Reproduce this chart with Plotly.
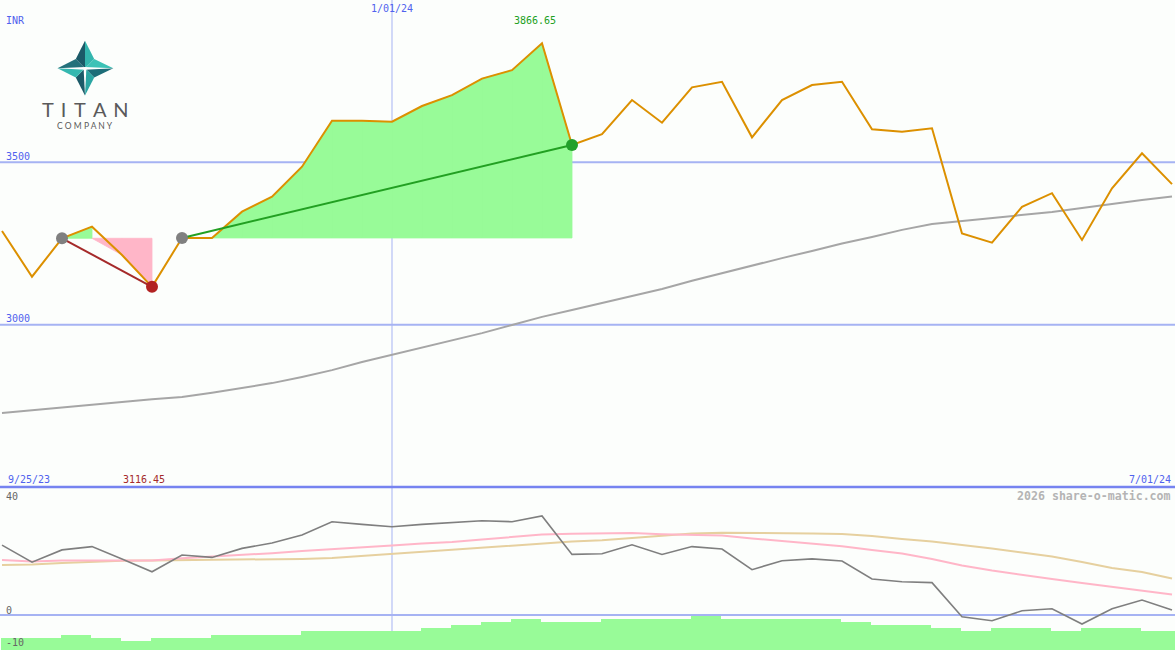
import pandas as pd
import plotly.graph_objects as go

# ---------------- data ----------------
dates = pd.date_range("2023-10-02", periods=40, freq="7D")

price = [3288.5, 3147.7, 3266.0, 3301.8, 3214.6, 3116.45, 3267.0, 3266.6, 3348.0, 3394.0,
         3486.6, 3628.0, 3628.0, 3625.0, 3673.5, 3707.0, 3758.0, 3784.0, 3866.65, 3553.4,
         3587.0, 3692.0, 3622.0, 3731.0, 3748.0, 3577.0, 3692.0, 3738.0, 3748.0, 3602.0,
         3594.0, 3605.0, 3281.0, 3252.5, 3363.0, 3405.0, 3261.0, 3420.0, 3528.0, 3433.0]

sma = [2728, 2737, 2746, 2754, 2762, 2770, 2777, 2790, 2805, 2820,
       2839, 2860, 2885, 2907, 2928, 2950, 2974, 2999, 3024, 3045,
       3067, 3088, 3110, 3135, 3159, 3181, 3205, 3227, 3250, 3270,
       3292, 3310, 3319, 3329, 3338, 3347, 3359, 3372, 3384, 3395]

osc = [23.3, 17.6, 21.7, 22.8, 18.7, 14.4, 20.0, 19.2, 22.2, 24.0,
       26.7, 31.1, 30.2, 29.4, 30.2, 30.7, 31.4, 31.1, 33.0, 20.2,
       20.4, 23.4, 20.2, 22.8, 22.0, 15.1, 18.1, 18.7, 18.0, 12.0,
       11.1, 10.8, -0.6, -1.9, 1.4, 2.1, -3.0, 2.1, 5.0, 1.7]

osc_fast = [18.3, 17.8, 18.2, 18.2, 18.2, 18.2, 18.9, 19.4, 19.9, 20.6,
            21.3, 22.0, 22.7, 23.2, 23.8, 24.3, 25.2, 26.0, 26.8, 27.1,
            27.3, 27.3, 26.9, 26.8, 26.5, 25.5, 24.7, 23.8, 22.9, 21.7,
            20.5, 18.7, 16.5, 14.8, 13.3, 12.0, 10.7, 9.4, 8.2, 6.8]

osc_slow = [16.7, 16.8, 17.3, 17.8, 18.1, 18.2, 18.3, 18.3, 18.4, 18.5,
            18.7, 19.0, 19.7, 20.3, 21.0, 21.8, 22.5, 23.2, 23.8, 24.5,
            24.9, 25.6, 26.5, 27.2, 27.4, 27.4, 27.3, 27.2, 27.0, 26.3,
            25.3, 24.5, 23.3, 22.2, 20.8, 19.5, 17.7, 15.7, 14.3, 12.2]

bar_tops = [-7.67, -7.67, -6.67, -7.67, -8.67, -7.67, -7.67, -6.67, -6.67, -6.67,
            -5.33, -5.33, -5.33, -5.33, -4.33, -3.33, -2.33, -1.33, -2.33, -2.33,
            -1.33, -1.33, -1.33, -0.33, -1.33, -1.33, -1.33, -1.33, -2.33, -3.33,
            -3.33, -4.33, -5.33, -4.33, -4.33, -5.33, -4.33, -4.33, -5.33, -5.33]

entry_dates = ["2023-10-16", "2023-11-13"]
exit_dates = ["2023-11-06", "2024-02-12"]

price_ticks = [3000, 3500]
osc_ticks = [40, 0, -10]
mid_date_label = "2024-01-01"
start_label, end_label = "9/25/23", "7/01/24"

# ---------------- helpers ----------------
W, H = 1175, 650
PX_PER_DAY = 30 / 7
ds = [d.strftime("%Y-%m-%d") for d in dates]
idx = {d: i for i, d in enumerate(ds)}
x_start = dates[0] - pd.Timedelta(days=2 / PX_PER_DAY)
x_end = x_start + pd.Timedelta(days=W / PX_PER_DAY)
SPLIT = 163 / H  # lower panel height fraction

def px(x, y):
    return x / W, 1 - y / H

BLUE_TXT = "#5062ee"
GRID = "#a6b3f3"
MONO = "DejaVu Sans Mono"

fig = go.Figure()

# ---------------- lower panel ----------------
fig.add_trace(go.Bar(
    x=ds, y=[t + 12 for t in bar_tops], base=-12, yaxis="y2",
    width=7 * 86400000, offset=-8 * 3600000,
    marker=dict(color="#98fb98", line=dict(width=0)), showlegend=False))
fig.add_trace(go.Scatter(x=ds, y=osc_slow, yaxis="y2", mode="lines",
                         line=dict(color="#e6d09f", width=2), showlegend=False))
fig.add_trace(go.Scatter(x=ds, y=osc_fast, yaxis="y2", mode="lines",
                         line=dict(color="#ffb6c8", width=2), showlegend=False))
fig.add_trace(go.Scatter(x=ds, y=osc, yaxis="y2", mode="lines",
                         line=dict(color="#7f7f7f", width=1.6), showlegend=False))

# ---------------- upper panel ----------------
fig.add_trace(go.Scatter(x=ds, y=sma, mode="lines",
                         line=dict(color="#a6a6a6", width=2), showlegend=False))

gx, gy, rx, ry = [], [], [], []
for e, x in zip(entry_dates, exit_dates):
    i0, i1 = idx[e], idx[x]
    L = price[i0]
    for a in range(i0, i1):
        b = a + 1
        up = price[b] >= L
        ya = price[a] if ((price[a] >= L) == up) else L
        xs = [ds[a], ds[b], ds[b], ds[a], None]
        ys = [ya, price[b], L, L, None]
        if up:
            gx += xs; gy += ys
        else:
            rx += xs; ry += ys
fig.add_trace(go.Scatter(x=gx, y=gy, mode="lines", fill="toself", fillcolor="#98fb98",
                         line=dict(color="#98fb98", width=0.8), showlegend=False))
fig.add_trace(go.Scatter(x=rx, y=ry, mode="lines", fill="toself", fillcolor="#ffb6c8",
                         line=dict(color="#ffb6c8", width=0.8), showlegend=False))

fig.add_trace(go.Scatter(x=ds, y=price, mode="lines",
                         line=dict(color="#dc9000", width=2), showlegend=False))

trade_colors = ["#a52a2a", "#22a022"]
for (e, x), c in zip(zip(entry_dates, exit_dates), trade_colors):
    fig.add_trace(go.Scatter(x=[e, x], y=[price[idx[e]], price[idx[x]]], mode="lines",
                             line=dict(color=c, width=2), showlegend=False))
fig.add_trace(go.Scatter(x=entry_dates, y=[price[idx[e]] for e in entry_dates], mode="markers",
                         marker=dict(color="#808080", size=12), showlegend=False))
fig.add_trace(go.Scatter(x=exit_dates, y=[price[idx[x]] for x in exit_dates], mode="markers",
                         marker=dict(color=["#b22222", "#22a02a"], size=12), showlegend=False))

# ---------------- shapes ----------------
shapes = []
for t in price_ticks:
    shapes.append(dict(type="line", xref="paper", yref="y", x0=0, x1=1, y0=t, y1=t,
                       line=dict(color=GRID, width=2), layer="below"))
shapes.append(dict(type="line", xref="paper", yref="y2", x0=0, x1=1, y0=0, y1=0,
                   line=dict(color=GRID, width=2), layer="below"))
shapes.append(dict(type="line", xref="x", yref="paper", x0=mid_date_label, x1=mid_date_label,
                   y0=0, y1=1, line=dict(color=GRID, width=1), layer="below"))
shapes.append(dict(type="line", xref="paper", yref="paper", x0=0, x1=1, y0=SPLIT, y1=SPLIT,
                   line=dict(color="#7683f0", width=2.5), layer="above"))

# logo star
C = (85, 68.3)
tips = {"T": (85, 40.7), "R": (113.3, 68.3), "B": (85, 95.5), "L": (57.5, 68.3)}
inner = {"TL": (75.8, 59.0), "TR": (94.2, 59.0), "BR": (94.2, 77.6), "BL": (75.8, 77.6)}
facets = [("T", "TL", "#1b5a68"), ("T", "TR", "#33b6ae"),
          ("R", "TR", "#3cc2b6"), ("R", "BR", "#1d6d78"),
          ("B", "BR", "#2aa6a3"), ("B", "BL", "#1b5a68"),
          ("L", "BL", "#35b8b0"), ("L", "TL", "#23707a")]

def path(pts):
    s = "M " + " L ".join(f"{px(*p)[0]:.5f},{px(*p)[1]:.5f}" for p in pts) + " Z"
    return s

for tip, inn, col in facets:
    shapes.append(dict(type="path", xref="paper", yref="paper",
                       path=path([C, tips[tip], inner[inn]]),
                       fillcolor=col, line=dict(width=0), layer="above"))
# white T
shapes.append(dict(type="path", xref="paper", yref="paper",
                   path=path([tips["L"], (85, 67.0), tips["R"], (85, 69.8)]),
                   fillcolor="white", line=dict(width=0), layer="above"))
shapes.append(dict(type="path", xref="paper", yref="paper",
                   path=path([(83.6, 68.3), (86.4, 68.3), tips["B"]]),
                   fillcolor="white", line=dict(width=0), layer="above"))

# ---------------- annotations ----------------
ann = []

def txt(text, x, y, xref="paper", yref="paper", xanchor="left", color=BLUE_TXT, size=10,
        xshift=0, yshift=0, family=MONO, bold=False):
    f = dict(family=family, size=size, color=color)
    if bold:
        f["weight"] = "bold"
    ann.append(dict(text=text, x=x, y=y, xref=xref, yref=yref, xanchor=xanchor,
                    yanchor="middle", showarrow=False, font=f, xshift=xshift, yshift=yshift,
                    borderpad=0))

txt("INR", *px(5, 20))
for t in price_ticks:
    txt(str(t), 5 / W, t, yref="y", yshift=6)
txt("1/01/24", mid_date_label, px(0, 9)[1], xref="x", xanchor="center")
txt(start_label, *px(7, 479))
txt(end_label, *px(1172, 479), xanchor="right")
imax = max(range(len(price)), key=lambda i: price[i])
imin = min(range(len(price)), key=lambda i: price[i])
txt(f"{price[imax]:.2f}", ds[imax], px(0, 21)[1], xref="x", xanchor="center",
    color="#22a022", xshift=-7)
txt(f"{price[imin]:.2f}", ds[imin], px(0, 479)[1], xref="x", xanchor="center",
    color="#a52a2a", xshift=-8)
shifts = {40: -1, 0: 5, -10: 3}
for t in osc_ticks:
    txt(str(t), 5 / W, t, yref="y2", yshift=shifts[t], color="#666666")
txt("2026 share-o-matic.com", *px(1172, 496), xanchor="right", color="#b4b4b4",
    size=11.6, bold=True)
sp = "\u00a0\u2009"
txt(sp.join("TITAN"), *px(85.5, 109), xanchor="center", color="#5a5a5a", size=20, family="Lato")
txt(" ".join("COMPANY"), *px(84.5, 126), xanchor="center", color="#5a5a5a", size=8.5,
    family="Lato")

fig.update_layout(
    width=W, height=H, autosize=False,
    margin=dict(l=0, r=0, t=0, b=0, pad=0),
    paper_bgcolor="#fcfefc", plot_bgcolor="#fcfefc",
    showlegend=False, hovermode=False, bargap=0,
    xaxis=dict(type="date", range=[x_start, x_end], showgrid=False, zeroline=False,
               showticklabels=False, showline=False, ticks="", anchor="y2"),
    yaxis=dict(domain=[SPLIT, 1], range=[2500, 4000], showgrid=False, zeroline=False,
               showticklabels=False, showline=False, ticks=""),
    yaxis2=dict(domain=[0, SPLIT], range=[-11.667, 42.667], showgrid=False, zeroline=False,
                showticklabels=False, showline=False, ticks=""),
    shapes=shapes, annotations=ann,
)

fig.write_html("out.html", config={"displayModeBar": False, "staticPlot": True},
               post_script="document.body.style.margin='0';document.body.style.overflow='hidden';")
